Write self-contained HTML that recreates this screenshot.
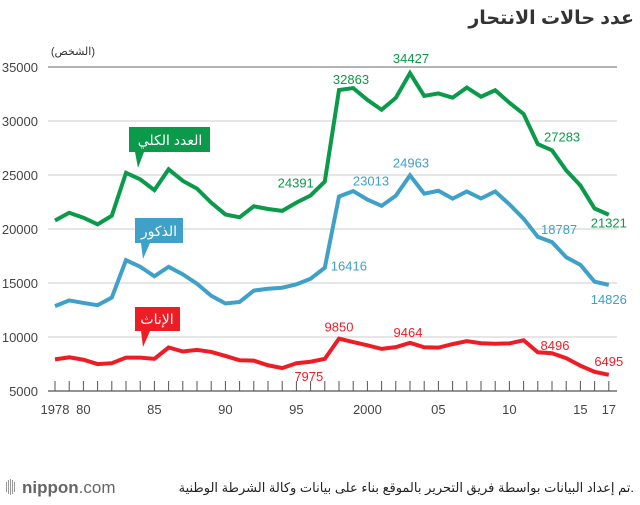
<!DOCTYPE html>
<html><head><meta charset="utf-8"><style>
body{margin:0;background:#fff;width:640px;height:500px;overflow:hidden;font-family:"Liberation Sans","Noto Sans CJK SC",sans-serif}
</style></head><body>
<svg width="640" height="500" id="c" font-family="Liberation Sans, DejaVu Sans, sans-serif">
<text x="634" y="24" text-anchor="end" font-size="19" font-weight="bold" fill="#333">عدد حالات الانتحار</text>
<text x="95" y="55" text-anchor="end" font-size="11" fill="#333">(الشخص)</text>
<g id="grid"></g><g id="ticks"></g><g id="lines"></g><g id="labels"></g>
<g><rect x="129" y="127" width="81" height="25" fill="#0a9a4a"/><polygon points="135,152 144,152 138,168" fill="#0a9a4a"/><text x="170" y="145" text-anchor="middle" font-size="14" fill="#fff">العدد الكلي</text></g>
<g><rect x="135" y="218" width="48" height="25" fill="#3fa0c8"/><polygon points="141,243 150,243 143,259" fill="#3fa0c8"/><text x="159" y="236" text-anchor="middle" font-size="14" fill="#fff">الذكور</text></g>
<g><rect x="135" y="307" width="45" height="24" fill="#ee1c25"/><polygon points="141,331 150,331 143,347" fill="#ee1c25"/><text x="157" y="324" text-anchor="middle" font-size="14" fill="#fff">الإناث</text></g>
<text x="634" y="492" text-anchor="end" font-size="13" fill="#222">تم إعداد البيانات بواسطة فريق التحرير بالموقع بناء على بيانات وكالة الشرطة الوطنية.</text>
<g><rect x="6" y="482" width="1" height="10" fill="#999"/><rect x="8" y="480" width="1" height="14" fill="#999"/><rect x="10" y="479" width="1" height="16" fill="#999"/><rect x="12" y="480" width="1" height="14" fill="#999"/><rect x="14" y="482" width="1" height="10" fill="#999"/><text x="22" y="493" font-size="17" fill="#666"><tspan font-weight="bold">nippon</tspan>.com</text></g>
</svg>
<script>
const years=[];for(let y=1978;y<=2017;y++)years.push(y);
const totalVals=[20788,21503,21048,20434,21228,25202,24596,23599,25524,24460,23742,22436,21346,21084,22104,21851,21679,22445,23104,24391,32863,33048,31957,31042,32143,34427,32325,32552,32155,33093,32249,32845,31690,30651,27858,27283,25427,24025,21897,21321];
const maleVals=[12859,13386,13155,12942,13654,17116,16508,15624,16497,15802,14934,13818,13102,13242,14296,14468,14560,14874,15393,16416,23013,23512,22727,22144,23080,24963,23272,23540,22813,23478,22831,23472,22283,20955,19273,18787,17386,16681,15121,14826];
const femaleVals=[7929,8117,7893,7492,7574,8086,8088,7975,9027,8658,8808,8618,8244,7842,7808,7383,7119,7571,7711,7975,9850,9536,9230,8898,9063,9464,9053,9012,9342,9615,9418,9373,9407,9696,8585,8496,8041,7344,6776,6495];
const yTicks=[5000,10000,15000,20000,25000,30000,35000];
const xTickYears=[1978,1980,1985,1990,1995,2000,2005,2010,2015,2017];
const xTickLabels=["1978","80","85","90","95","2000","05","10","15","17"];
const ns="http://www.w3.org/2000/svg";
const X=y=>55+(y-1978)*14.2;
const Y=v=>391-(v-5000)*54/5000;
function mk(t,a,p,txt){const e=document.createElementNS(ns,t);for(const k in a)e.setAttribute(k,a[k]);if(txt!=null)e.textContent=txt;document.getElementById(p).appendChild(e);return e;}
yTicks.forEach(v=>{
 if(v>5000){const l=mk('line',{x1:48,x2:617,y1:Y(v),y2:Y(v),stroke:v==35000?'#888':'#d8d8d8','stroke-width':1.2},'grid');
 
 }
 const t=mk('text',{x:38,y:Y(v)+5,'text-anchor':'end','font-size':13,fill:'#444'},'grid',String(v));
 
 
});
const ax=mk('line',{x1:48,x2:617,y1:391,y2:391,stroke:'#555','stroke-width':1.2},'ticks');


years.forEach(y=>{const t=mk('line',{x1:X(y),x2:X(y),y1:381,y2:391,stroke:'#555','stroke-width':1},'ticks');
 
 });
xTickYears.forEach((y,i)=>{const t=mk('text',{x:X(y),y:414,'text-anchor':'middle','font-size':13,fill:'#444'},'ticks',xTickLabels[i]);
 
 });
const series=[[totalVals,'#0a9a4a','total-line'],[maleVals,'#3fa0c8','male-line'],[femaleVals,'#ee1c25','female-line']];
series.forEach(s=>{const p=mk('polyline',{points:s[0].map((v,i)=>X(years[i])+','+Y(v)).join(' '),fill:'none',stroke:s[1],'stroke-width':4,'stroke-linejoin':'miter'},'lines');
 
 });
const labelYears=[[totalVals,'#0a9a4a',[[1997,-11,6,'end'],[1998,12,-6,'middle'],[2003,1,-10,'middle'],[2013,-8,-9,'start'],[2017,0,13,'middle']]],
[maleVals,'#3fa0c8',[[1997,6,3,'start'],[1998,32,-11,'middle'],[2003,1,-8,'middle'],[2013,-11,-8,'start'],[2017,0,19,'middle']]],
[femaleVals,'#ee1c25',[[1997,-16,22,'middle'],[1998,0,-7,'middle'],[2003,-2,-6,'middle'],[2013,3,-3,'middle'],[2017,0,-9,'middle']]]];
labelYears.forEach(s=>s[2].forEach(l=>{const i=l[0]-1978;const t=mk('text',{x:X(l[0])+l[1],y:Y(s[0][i])+l[2],'text-anchor':l[3],'font-size':13,fill:s[1]},'labels',String(s[0][i]));
 
 }));
</script>
</body></html>
